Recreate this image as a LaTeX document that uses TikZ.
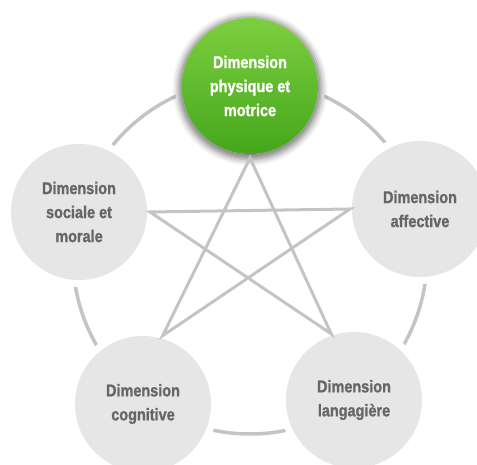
\documentclass[tikz,border=0pt]{standalone}
\usepackage{fontspec}
\newfontfamily\dimfont{Liberation Sans}[FakeStretch=0.85, BoldFeatures={FakeBold=1.2}]
\usetikzlibrary{calc,shadows.blur}
\definecolor{ringgray}{HTML}{C4C4C4}
\definecolor{discgray}{HTML}{E6E6E6}
\definecolor{textgray}{HTML}{666666}
\definecolor{leaflight}{HTML}{7DCF40}
\definecolor{leafdark}{HTML}{45A61B}

\begin{document}
\begin{tikzpicture}[x=1pt, y=-1pt,
        disc/.style = {circle, fill=discgray, minimum size=136pt, inner sep=0pt, align=center,
                       text=textgray, font=\dimfont\bfseries\fontsize{17}{24}\selectfont,
                       preaction={draw=white, line width=14pt}},
        hub/.style  = {disc, text=white, top color=leaflight, bottom color=leafdark,
                       blur shadow={shadow xshift=0pt, shadow yshift=-2pt,
                                    shadow blur radius=6pt, shadow scale=1.05, shadow opacity=50}},
        ring/.style = {draw=ringgray, line width=3.5pt},
        link/.style = {draw=ringgray, line width=3pt}
    ]
    \useasboundingbox (0,0) rectangle (477,465);
    \clip (0,0) rectangle (477,465);
    \draw[ring] (250,257) circle[radius=177];

    \node[hub]  (phys) at (250,86)  {Dimension\\physique et\\motrice};
    \node[disc] (soc)  at (79,212)  {Dimension\\sociale et\\morale};
    \node[disc] (aff)  at (420,209) {Dimension\\affective};
    \node[disc] (cog)  at (143,404) {Dimension\\cognitive};
    \node[disc] (lang) at (354,400) {Dimension\\langagière};

    \coordinate (v-phys) at ($(phys.center)!72pt!(phys.south)$);
    \coordinate (v-soc)  at ($(soc.center)!71pt!(soc.east)$);
    \coordinate (v-aff)  at ($(aff.center)!70pt!(aff.west)$);
    \coordinate (v-cog)  at ($(cog.center)!71pt!(cog.74)$);
    \coordinate (v-lang) at ($(lang.center)!70pt!(lang.109)$);
    \draw[link] (v-phys) -- (v-cog) -- (v-aff) -- (v-soc) -- (v-lang) -- cycle;
\end{tikzpicture}
\end{document}
